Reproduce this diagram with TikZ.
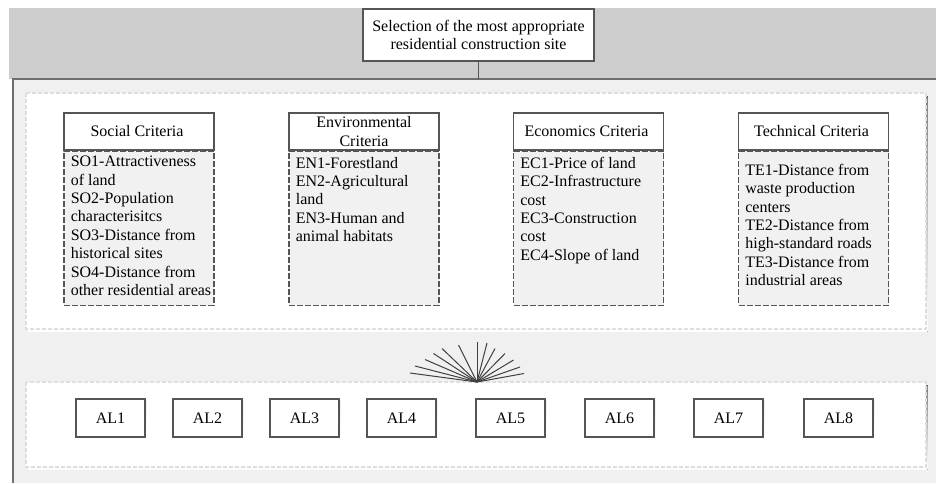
\documentclass[tikz,border=0pt]{standalone}
\usepackage{fontspec}
\setmainfont{Liberation Serif}
\usepackage{tikz}
\usetikzlibrary{positioning}
\definecolor{band}{RGB}{205, 205, 205}
\definecolor{panel}{RGB}{240, 240, 240}
\definecolor{edge}{RGB}{110, 110, 110}
\definecolor{boxline}{RGB}{85, 85, 85}
\definecolor{faint}{RGB}{222, 222, 222}
\definecolor{shade}{RGB}{206, 222, 238}
\definecolor{bodyfill}{RGB}{241, 241, 241}

\begin{document}
\begin{tikzpicture}[
   x=0.5pt, y=-0.5pt,
   font=\fontsize{8}{9.2}\selectfont,
   goalrec/.style={rectangle, draw=boxline, fill=white, line width=0.6, align=center,
                   inner sep=1, minimum width=115.5pt, minimum height=26pt},
   headrec/.style={rectangle, draw=boxline, fill=white, line width=0.6, align=center,
                   inner sep=1, minimum width=75pt, minimum height=18.5pt},
   bodyrec/.style={rectangle, draw=boxline, fill=bodyfill, line width=0.6,
                   dash pattern=on 3pt off 1pt, inner sep=0,
                   minimum width=75pt, minimum height=77pt},
   bodytxt/.style={align=left, inner sep=0, anchor=north west},
   altrec/.style={rectangle, draw=boxline, fill=white, line width=0.6,
                  inner sep=1, minimum width=34.5pt, minimum height=19pt},
   panelrec/.style={draw=faint, fill=white, line width=0.6, dash pattern=on 2pt off 1pt}
  ]

  \useasboundingbox (0, 0) rectangle (936, 483);

  % Background bands
  \fill[band] (9, 8) rectangle (936, 79);
  \fill[panel] (13, 79) rectangle (936, 483);
  \draw[edge, line width=0.6] (13, 483) -- (13, 79) -- (936, 79);

  % Panels
  \fill[shade] (28, 96) rectangle (927.5, 331.5);
  \draw[panelrec] (26, 93) rectangle (926, 329);
  \fill[shade] (28, 385) rectangle (927.5, 469.5);
  \draw[panelrec] (26, 382) rectangle (926, 467);

  % Goal
  \node (goal) at (478.5, 35) [goalrec] { Selection of the most appropriate\\residential construction site };
  \coordinate (joint) at (478.5, 79);
  \draw[boxline, line width=0.6] (goal) -- (joint);

  % Criteria
  \node (soc) at (139, 131.5) [headrec] { Social Criteria };
  \node (env) at (364, 131.5) [headrec] { Environmental\\Criteria };
  \node (eco) at (588.5, 131.5) [headrec] { Economics Criteria };
  \node (tec) at (813.5, 131.5) [headrec] { Technical Criteria };

  \node (socb) [bodyrec, below=0pt of soc] {};
  \node (envb) [bodyrec, below=0pt of env] {};
  \node (ecob) [bodyrec, below=0pt of eco] {};
  \node (tecb) [bodyrec, below=0pt of tec] {};

  \node (soct) [bodytxt] at ([shift={(3.5pt, -2.5pt)}] socb.north west)
    { SO1-Attractiveness\\of land\\SO2-Population\\characterisitcs\\SO3-Distance from\\historical sites\\SO4-Distance from\\other residential areas };
  \node (envt) [bodytxt] at ([shift={(3.5pt, -3pt)}] envb.north west)
    { EN1-Forestland\\EN2-Agricultural\\land\\EN3-Human and\\animal habitats };
  \node (ecot) [bodytxt] at ([shift={(3.5pt, -3pt)}] ecob.north west)
    { EC1-Price of land\\EC2-Infrastructure\\cost\\EC3-Construction\\cost\\EC4-Slope of land };
  \node (tect) [bodytxt] at ([shift={(3.5pt, -6.5pt)}] tecb.north west)
    { TE1-Distance from\\waste production\\centers\\TE2-Distance from\\high-standard roads\\TE3-Distance from\\industrial areas };

  % Fan
  \coordinate (hub) at (477, 382);
  \foreach \dx/\dy in {-67/-9, -62/-16, -52/-22.5, -43.5/-28.5, -35/-33.5, -18.5/-37,
                       0/-40, 10/-39, 18/-33.5, 28/-28.5, 36.5/-22, 43/-15, 47/-8.5} {
    \draw[black!75, line width=0.5] (hub) -- ++(\dx, \dy);
  }

  % Alternatives
  \foreach \i/\x in {1/110.5, 2/207.5, 3/304.5, 4/401.5, 5/510.5, 6/619.5, 7/728.5, 8/838.5} {
    \fill[shade] (\x - 33.5, 400) rectangle (\x + 35.5, 439);
    \node (al\i) at (\x, 418) [altrec] { AL\i };
  }

\end{tikzpicture}
\end{document}
